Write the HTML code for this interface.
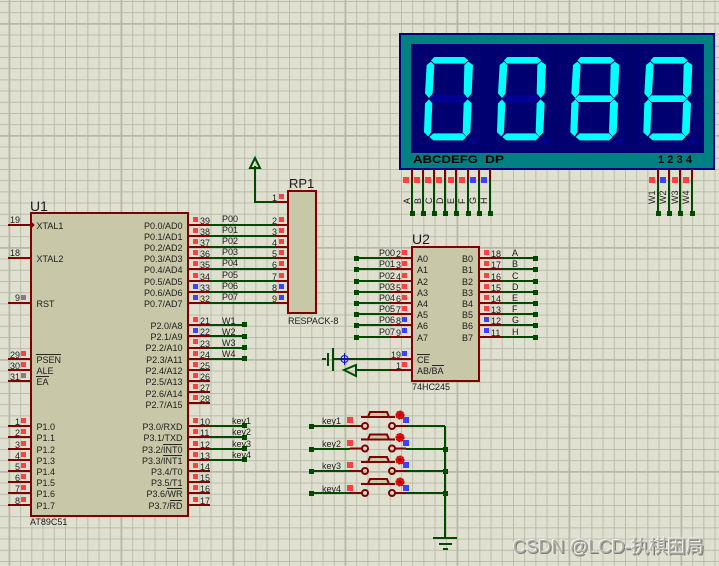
<!DOCTYPE html>
<html><head><meta charset="utf-8"><style>
html,body{margin:0;padding:0;background:#dfe0d0}
svg{display:block}
text{font-family:"Liberation Sans","Noto Sans CJK SC",sans-serif;font-size:9px;fill:#1c1c1c}
.e{text-anchor:end}
.big{font-size:14px}
#wm{position:absolute;left:513px;top:536px;font:18.3px/21px "Liberation Sans","Noto Sans CJK SC",sans-serif;color:#aeaea6;text-shadow:-1px -1px 0 #f2f2ea,1px 1px 0 #7c7c76;white-space:nowrap}
</style></head><body>
<svg width="719" height="566" viewBox="0 0 719 566" xmlns="http://www.w3.org/2000/svg">
<defs>
<pattern id="g" x="9" y="1" width="11.2" height="11.2" patternUnits="userSpaceOnUse"><path d="M0 0V11.2M0 0H11.2" stroke="#b5b8a8" stroke-width="1.7" fill="none"/></pattern>
<pattern id="G" x="8.5" y="23" width="112" height="112" patternUnits="userSpaceOnUse"><path d="M0 0V112M0 0H112" stroke="#b6b9a9" stroke-width="3.6" fill="none"/></pattern>
<g id="seg">
<polygon points="108,106 118,96 208,96 220,106 208,116 118,116"/>
<polygon points="108,110 118,120 113,205 102,219 90,205 95,120"/>
<polygon points="220,110 234,120 230,205 218,219 206,205 208,120"/>
<polygon points="102,223 112,235 108,322 100,334 87,322 90,235"/>
<polygon points="218,223 230,235 226,322 214,334 203,322 206,235"/>
<polygon points="103,336 115,325 203,325 214,336 203,346 115,346"/>
</g>
<polygon id="mid" points="112,211 207,211 218,221 207,231 112,231 101,221"/>
<circle id="dp" cx="236" cy="350" r="9"/>
<g id="sw">
<path d="M361 417H395M368 417L370 412H387L389 417" stroke="#800000" stroke-width="2" fill="#c8c8a8"/>
<circle cx="365" cy="426" r="3" fill="none" stroke="#800000" stroke-width="2"/>
<circle cx="392" cy="426" r="3" fill="none" stroke="#800000" stroke-width="2"/>
<path d="M350 426H362M395 426H406" stroke="#800000" stroke-width="2"/>
<circle cx="400" cy="415" r="4" fill="#f00" stroke="#a00000" stroke-width="1" stroke-dasharray="2 1"/>
<path d="M398 415H402M400 413V417" stroke="#700000" stroke-width="1"/>
</g>
</defs>
<rect width="719" height="566" fill="#dfe0d0"/>
<rect width="719" height="566" fill="url(#g)"/>
<rect width="719" height="566" fill="url(#G)"/>

<!-- display -->
<rect x="400" y="34" width="314" height="135" fill="#008080" stroke="#000080" stroke-width="2"/>
<rect x="411" y="44" width="293" height="109" fill="#000070"/>
<g transform="translate(395 25) scale(.33333)">
<path d="M265 60V380M485 60V380M705 60V380" stroke="#000060" stroke-width="3"/>
<g fill="#000096"><use href="#mid"/><use href="#mid" x="219"/><use href="#dp"/><use href="#dp" x="219"/><use href="#dp" x="439"/><use href="#dp" x="658"/></g>
<g fill="#00ffff"><use href="#seg"/><use href="#seg" x="219"/><use href="#seg" x="439"/><use href="#seg" x="658"/><use href="#mid" x="439"/><use href="#mid" x="658"/></g>
</g>
<text x="413" y="163" textLength="65" lengthAdjust="spacingAndGlyphs" style="font-size:11px;font-weight:bold;fill:#000">ABCDEFG</text>
<text x="485" y="163" textLength="19" lengthAdjust="spacingAndGlyphs" style="font-size:11px;font-weight:bold;fill:#000">DP</text>
<text x="658" y="163" textLength="34" style="font-size:11px;font-weight:bold;fill:#000">1234</text>

<!-- green wires -->
<path fill="none" stroke="#004a00" stroke-width="2" d="
M412 180V213M423 180V213M434 180V213M445 180V213M456 180V213M468 180V213M479 180V213M490 180V213
M658 180V213M669 180V213M680 180V213M692 180V213
M210 225H276M210 236H276M210 247H276M210 258H276M210 269H276M210 281H276M210 292H276M210 303H276
M276 202H255V166
M210 325H245M210 336H245M210 348H245M210 359H245
M210 426H245M210 437H245M210 449H245M210 460H245
M356 258H389M356 269H389M356 281H389M356 292H389M356 303H389M356 314H389M356 325H389M356 337H389
M501 258H535M501 269H535M501 281H535M501 292H535M501 303H535M501 314H535M501 325H535M501 337H535
M333 359H389M357 370H389
M311 426H350M311 449H350M311 471H350M311 493H350
M406 426H445M406 449H445M406 471H445M406 493H445M445 426V538
M433 538H457M439 544H452M443 549H448
M333 348V371M328 353V366M322 359H326"/>
<path fill="none" stroke="#004a00" stroke-width="2" d="M255 158L250 168H260ZM344 370L356 365V376Z"/>
<!-- nodes -->
<path fill="#004a00" d="
M410 211h5v5h-5zM421 211h5v5h-5zM432 211h5v5h-5zM443 211h5v5h-5zM454 211h5v5h-5zM466 211h5v5h-5zM477 211h5v5h-5zM488 211h5v5h-5z
M656 211h5v5h-5zM667 211h5v5h-5zM678 211h5v5h-5zM690 211h5v5h-5z
M242 322h5v5h-5zM242 334h5v5h-5zM242 345h5v5h-5zM242 356h5v5h-5z
M242 423h5v5h-5zM242 435h5v5h-5zM242 446h5v5h-5zM242 457h5v5h-5z
M354 256h5v5h-5zM354 267h5v5h-5zM354 279h5v5h-5zM354 290h5v5h-5zM354 301h5v5h-5zM354 312h5v5h-5zM354 323h5v5h-5zM354 335h5v5h-5z
M533 256h5v5h-5zM533 267h5v5h-5zM533 279h5v5h-5zM533 290h5v5h-5zM533 301h5v5h-5zM533 312h5v5h-5zM533 323h5v5h-5zM533 335h5v5h-5z
M309 424h5v5h-5zM309 447h5v5h-5zM309 469h5v5h-5zM309 491h5v5h-5z
M443 447h5v5h-5zM443 469h5v5h-5zM443 491h5v5h-5z"/>

<!-- maroon pins -->
<path fill="none" stroke="#800000" stroke-width="2" d="
M412 169V180M423 169V180M434 169V180M445 169V180M456 169V180M468 169V180M479 169V180M490 169V180
M658 169V180M669 169V180M680 169V180M692 169V180
M8 225H31M8 258H31M8 303H31M8 359H31M8 370H31M8 381H31
M8 426H31M8 437H31M8 449H31M8 460H31M8 471H31M8 482H31M8 493H31M8 505H31
M188 225H210M188 236H210M188 247H210M188 258H210M188 269H210M188 281H210M188 292H210M188 303H210
M188 325H210M188 336H210M188 348H210M188 359H210M188 370H210M188 381H210M188 392H210M188 403H210
M188 426H210M188 437H210M188 449H210M188 460H210M188 471H210M188 482H210M188 493H210M188 505H210
M276 202H288M276 225H288M276 236H288M276 247H288M276 258H288M276 269H288M276 281H288M276 292H288M276 303H288
M389 258H412M389 269H412M389 281H412M389 292H412M389 303H412M389 314H412M389 325H412M389 337H412M389 359H412M389 370H412
M479 258H501M479 269H501M479 281H501M479 292H501M479 303H501M479 314H501M479 325H501M479 337H501"/>
<!-- components -->
<rect x="31" y="213" width="157" height="303" fill="#c8c8a8" stroke="#800000" stroke-width="2"/>
<path d="M31 222L34 225L31 228" fill="#800000" stroke="#800000"/>
<rect x="288" y="191" width="28" height="122" fill="#c8c8a8" stroke="#800000" stroke-width="2"/>
<rect x="412" y="247" width="67" height="134" fill="#c8c8a8" stroke="#800000" stroke-width="2"/>

<!-- switches -->
<use href="#sw"/><use href="#sw" y="22.5"/><use href="#sw" y="45"/><use href="#sw" y="67"/>

<!-- probe -->
<g fill="none" stroke="#1010d0" stroke-width="1"><circle cx="344.5" cy="359" r="3.5"/><path d="M344.5 353V365M339 359H350"/></g>

<!-- red probes -->
<path fill="#ff4040" d="
M403 177h6v6h-6zM414 177h6v6h-6zM425 177h6v6h-6zM436 177h6v6h-6zM448 177h6v6h-6zM459 177h6v6h-6z
M649 177h6v6h-6zM672 177h6v6h-6zM683 177h6v6h-6z
M193 217h5v5h-5zM193 228h5v5h-5zM193 239h5v5h-5zM193 250h5v5h-5zM193 261h5v5h-5zM193 273h5v5h-5z
M193 317h5v5h-5zM193 339h5v5h-5zM193 351h5v5h-5zM193 362h5v5h-5zM193 373h5v5h-5zM193 384h5v5h-5zM193 395h5v5h-5z
M193 418h5v5h-5zM193 429h5v5h-5zM193 441h5v5h-5zM193 452h5v5h-5zM193 463h5v5h-5zM193 474h5v5h-5zM193 485h5v5h-5zM193 497h5v5h-5z
M21 351h5v5h-5zM21 362h5v5h-5z
M21 418h5v5h-5zM21 429h5v5h-5zM21 441h5v5h-5zM21 452h5v5h-5zM21 463h5v5h-5zM21 474h5v5h-5zM21 485h5v5h-5zM21 497h5v5h-5z
M279 194h5v5h-5zM279 217h5v5h-5zM279 228h5v5h-5zM279 239h5v5h-5zM279 250h5v5h-5zM279 261h5v5h-5zM279 273h5v5h-5z
M402 250h5v5h-5zM402 261h5v5h-5zM402 273h5v5h-5zM402 284h5v5h-5zM402 295h5v5h-5zM402 306h5v5h-5zM402 362h5v5h-5z
M484 250h5v5h-5zM484 261h5v5h-5zM484 273h5v5h-5zM484 284h5v5h-5zM484 295h5v5h-5zM484 306h5v5h-5z
M347 417h6v6h-6zM347 440h6v6h-6zM347 462h6v6h-6zM347 485h6v6h-6z"/>
<path fill="#4040ff" d="
M470 177h6v6h-6zM481 177h6v6h-6zM660 177h6v6h-6z
M193 284h5v5h-5zM193 295h5v5h-5zM193 328h5v5h-5z
M279 284h5v5h-5zM279 295h5v5h-5z
M402 317h5v5h-5zM402 328h5v5h-5zM402 351h5v5h-5z
M484 317h5v5h-5zM484 328h5v5h-5z
M403 417h6v6h-6zM403 440h6v6h-6zM403 462h6v6h-6zM403 485h6v6h-6z"/>
<path fill="#808080" d="M21 295h5v5h-5zM21 373h5v5h-5z"/>

<!-- overlines -->
<path stroke="#262626" stroke-width="1" fill="none" d="M36 354.5H61M36 376.5H49M163 444.5H182M163 455.5H182M167 488.5H182M170 500.5H182M417 354.5H430M432 365.5H444"/>

<!-- U1 texts -->
<text class="big" x="30" y="211">U1</text>
<text x="30" y="525">AT89C51</text>
<text x="36.500" y="229">XTAL1</text><text x="36.500" y="262">XTAL2</text><text x="36.500" y="307">RST</text>
<text x="36.500" y="363">PSEN</text><text x="36.500" y="374">ALE</text><text x="36.500" y="385">EA</text>
<text x="36.500" y="430">P1.0</text><text x="36.500" y="441">P1.1</text><text x="36.500" y="453">P1.2</text><text x="36.500" y="464">P1.3</text><text x="36.500" y="475">P1.4</text><text x="36.500" y="486">P1.5</text><text x="36.500" y="497">P1.6</text><text x="36.500" y="509">P1.7</text>
<g class="e">
<text class="e" x="182.500" y="229">P0.0/AD0</text><text class="e" x="182.500" y="240">P0.1/AD1</text><text class="e" x="182.500" y="251">P0.2/AD2</text><text class="e" x="182.500" y="262">P0.3/AD3</text><text class="e" x="182.500" y="273">P0.4/AD4</text><text class="e" x="182.500" y="285">P0.5/AD5</text><text class="e" x="182.500" y="296">P0.6/AD6</text><text class="e" x="182.500" y="307">P0.7/AD7</text>
<text class="e" x="182.500" y="329">P2.0/A8</text><text class="e" x="182.500" y="340">P2.1/A9</text><text class="e" x="182.500" y="351">P2.2/A10</text><text class="e" x="182.500" y="363">P2.3/A11</text><text class="e" x="182.500" y="374">P2.4/A12</text><text class="e" x="182.500" y="385">P2.5/A13</text><text class="e" x="182.500" y="397">P2.6/A14</text><text class="e" x="182.500" y="408">P2.7/A15</text>
<text class="e" x="182.500" y="430">P3.0/RXD</text><text class="e" x="182.500" y="441">P3.1/TXD</text><text class="e" x="182.500" y="453">P3.2/INT0</text><text class="e" x="182.500" y="464">P3.3/INT1</text><text class="e" x="182.500" y="475">P3.4/T0</text><text class="e" x="182.500" y="486">P3.5/T1</text><text class="e" x="182.500" y="497">P3.6/WR</text><text class="e" x="182.500" y="509">P3.7/RD</text>
<text class="e" x="20" y="223">19</text><text class="e" x="20" y="256">18</text><text class="e" x="20" y="301">9</text><text class="e" x="20" y="358">29</text><text class="e" x="20" y="369">30</text><text class="e" x="20" y="380">31</text>
<text class="e" x="20" y="425">1</text><text class="e" x="20" y="436">2</text><text class="e" x="20" y="448">3</text><text class="e" x="20" y="459">4</text><text class="e" x="20" y="470">5</text><text class="e" x="20" y="481">6</text><text class="e" x="20" y="492">7</text><text class="e" x="20" y="504">8</text>
</g>
<text x="200" y="224">39</text><text x="200" y="235">38</text><text x="200" y="246">37</text><text x="200" y="257">36</text><text x="200" y="268">35</text><text x="200" y="280">34</text><text x="200" y="291">33</text><text x="200" y="302">32</text>
<text x="200" y="324">21</text><text x="200" y="335">22</text><text x="200" y="347">23</text><text x="200" y="358">24</text><text x="200" y="369">25</text><text x="200" y="380">26</text><text x="200" y="391">27</text><text x="200" y="402">28</text>
<text x="200" y="425">10</text><text x="200" y="436">11</text><text x="200" y="448">12</text><text x="200" y="459">13</text><text x="200" y="470">14</text><text x="200" y="481">15</text><text x="200" y="492">16</text><text x="200" y="504">17</text>
<text x="222" y="222">P00</text><text x="222" y="233">P01</text><text x="222" y="244">P02</text><text x="222" y="255">P03</text><text x="222" y="266">P04</text><text x="222" y="278">P05</text><text x="222" y="289">P06</text><text x="222" y="300">P07</text>
<text x="222" y="324">W1</text><text x="222" y="335">W2</text><text x="222" y="346">W3</text><text x="222" y="357">W4</text>
<text x="232" y="424">key1</text><text x="232" y="435">key2</text><text x="232" y="447">key3</text><text x="232" y="458">key4</text>

<!-- RP1 -->
<text x="289" y="188" style="font-size:13px">RP1</text>
<text x="288" y="324">RESPACK-8</text>
<text class="e" x="277" y="201">1</text><text class="e" x="277" y="224">2</text><text class="e" x="277" y="235">3</text><text class="e" x="277" y="246">4</text><text class="e" x="277" y="257">5</text><text class="e" x="277" y="268">6</text><text class="e" x="277" y="280">7</text><text class="e" x="277" y="291">8</text><text class="e" x="277" y="302">9</text>

<!-- U2 -->
<text class="big" x="412" y="244">U2</text>
<text x="412" y="390">74HC245</text>
<text x="417" y="262">A0</text><text x="417" y="273">A1</text><text x="417" y="285">A2</text><text x="417" y="296">A3</text><text x="417" y="307">A4</text><text x="417" y="318">A5</text><text x="417" y="329">A6</text><text x="417" y="341">A7</text>
<text x="417" y="363">CE</text><text x="417" y="374">AB/BA</text>
<text class="e" x="473" y="262">B0</text><text class="e" x="473" y="273">B1</text><text class="e" x="473" y="285">B2</text><text class="e" x="473" y="296">B3</text><text class="e" x="473" y="307">B4</text><text class="e" x="473" y="318">B5</text><text class="e" x="473" y="329">B6</text><text class="e" x="473" y="341">B7</text>
<text x="379" y="256">P00</text><text x="379" y="267">P01</text><text x="379" y="279">P02</text><text x="379" y="290">P03</text><text x="379" y="301">P04</text><text x="379" y="312">P05</text><text x="379" y="323">P06</text><text x="379" y="335">P07</text>
<text class="e" x="401" y="257">2</text><text class="e" x="401" y="268">3</text><text class="e" x="401" y="280">4</text><text class="e" x="401" y="291">5</text><text class="e" x="401" y="302">6</text><text class="e" x="401" y="313">7</text><text class="e" x="401" y="324">8</text><text class="e" x="401" y="336">9</text><text class="e" x="401" y="358">19</text><text class="e" x="401" y="369">1</text>
<text x="491" y="257">18</text><text x="491" y="268">17</text><text x="491" y="280">16</text><text x="491" y="291">15</text><text x="491" y="302">14</text><text x="491" y="313">13</text><text x="491" y="324">12</text><text x="491" y="336">11</text>
<text x="512" y="256">A</text><text x="512" y="267">B</text><text x="512" y="279">C</text><text x="512" y="290">D</text><text x="512" y="301">E</text><text x="512" y="312">F</text><text x="512" y="323">G</text><text x="512" y="335">H</text>

<!-- keys -->
<text x="322" y="424">key1</text><text x="322" y="447">key2</text><text x="322" y="469">key3</text><text x="322" y="492">key4</text>

<!-- rotated labels -->
<g style="fill:#333">
<text transform="translate(410 204) rotate(-90)">A</text><text transform="translate(421 204) rotate(-90)">B</text><text transform="translate(432 204) rotate(-90)">C</text><text transform="translate(443 204) rotate(-90)">D</text><text transform="translate(454 204) rotate(-90)">E</text><text transform="translate(465 204) rotate(-90)">F</text><text transform="translate(476 204) rotate(-90)">G</text><text transform="translate(487 204) rotate(-90)">H</text>
<text transform="translate(655 204) rotate(-90)">W1</text><text transform="translate(666 204) rotate(-90)">W2</text><text transform="translate(678 204) rotate(-90)">W3</text><text transform="translate(689 204) rotate(-90)">W4</text>
</g>
</svg>
<div id="wm">CSDN @LCD-执棋困局</div>
</body></html>
